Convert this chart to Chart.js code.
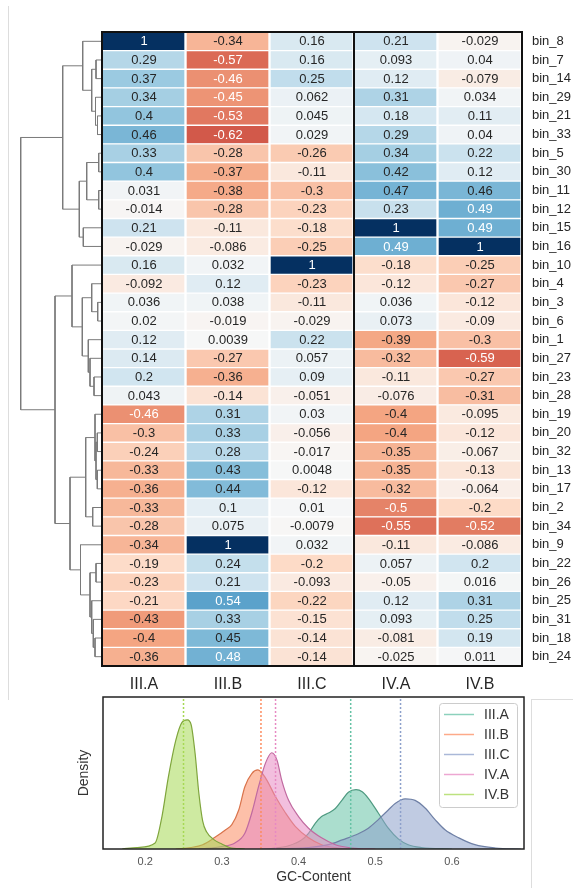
<!DOCTYPE html>
<html>
<head>
<meta charset="utf-8">
<script src="https://cdn.jsdelivr.net/npm/chart.js@4.4.0/dist/chart.umd.min.js"></script>
<style>
  body { margin: 0; background: #fff; width: 573px; height: 888px; position: relative; overflow: hidden; }
  canvas { position: absolute; }
  .frame { position: absolute; border: 0 solid #dddddd; }
</style>
</head>
<body>
<div class="frame" style="left:8px;top:6px;width:0;height:694px;border-left-width:1px"></div>
<div class="frame" style="left:531px;top:699px;width:42px;height:189px;border-left-width:1px;border-top-width:1px"></div>
<canvas id="dendroChart" style="left:10px;top:32px" width="91" height="634"></canvas>
<canvas id="heatChart" style="left:100px;top:30px" width="473" height="672"></canvas>
<canvas id="gcChart" style="left:70px;top:690px" width="503" height="198"></canvas>
<script>
// ---- heatmap data (rows in clustered order, top to bottom) ----
const rowLabels = ['bin_8','bin_7','bin_14','bin_29','bin_21','bin_33','bin_5','bin_30','bin_11','bin_12',
  'bin_15','bin_16','bin_10','bin_4','bin_3','bin_6','bin_1','bin_27','bin_23','bin_28',
  'bin_19','bin_20','bin_32','bin_13','bin_17','bin_2','bin_34','bin_9','bin_22','bin_26',
  'bin_25','bin_31','bin_18','bin_24'];
const colLabels = ['III.A', 'III.B', 'III.C', 'IV.A', 'IV.B'];

const colIIIA = [1,0.29,0.37,0.34,0.4,0.46,0.33,0.4,0.031,-0.014,0.21,-0.029,0.16,-0.092,0.036,0.02,0.12,0.14,0.2,0.043,
  -0.46,-0.3,-0.24,-0.33,-0.36,-0.33,-0.28,-0.34,-0.19,-0.23,-0.21,-0.43,-0.4,-0.36];
const colIIIB = [-0.34,-0.57,-0.46,-0.45,-0.53,-0.62,-0.28,-0.37,-0.38,-0.28,-0.11,-0.086,0.032,0.12,0.038,-0.019,0.0039,-0.27,-0.36,-0.14,
  0.31,0.33,0.28,0.43,0.44,0.1,0.075,1,0.24,0.21,0.54,0.33,0.45,0.48];
const colIIIC = [0.16,0.16,0.25,0.062,0.045,0.029,-0.26,-0.11,-0.3,-0.23,-0.18,-0.25,1,-0.23,-0.11,-0.029,0.22,0.057,0.09,-0.051,
  0.03,-0.056,-0.017,0.0048,-0.12,0.01,-0.0079,0.032,-0.2,-0.093,-0.22,-0.15,-0.14,-0.14];
const colIVA = [0.21,0.093,0.12,0.31,0.18,0.29,0.34,0.42,0.47,0.23,1,0.49,-0.18,-0.12,0.036,0.073,-0.39,-0.32,-0.11,-0.076,
  -0.4,-0.4,-0.35,-0.35,-0.32,-0.5,-0.55,-0.11,0.057,-0.05,0.12,0.093,-0.081,-0.025];
const colIVB = [-0.029,0.04,-0.079,0.034,0.11,0.04,0.22,0.12,0.46,0.49,0.49,1,-0.25,-0.27,-0.12,-0.09,-0.3,-0.59,-0.27,-0.31,
  -0.095,-0.12,-0.067,-0.13,-0.064,-0.2,-0.52,-0.086,0.2,0.016,0.31,0.25,0.19,0.011];
const heatColumns = [colIIIA, colIIIB, colIIIC, colIVA, colIVB];

// row linkage: [childA, childB, height]; ids < 34 are rows, 34+k is link k
const dendroLinks = [
  [1,2,5], [4,5,3.5], [3,35,5.5], [34,36,9.3], [0,37,18.3],
  [6,7,2.3], [8,9,2.3], [39,40,14.3], [10,11,17.7], [41,42,21.7],
  [38,43,38.3],
  [14,15,3.3], [13,45,9.3], [18,19,7], [17,47,11], [16,48,12.7], [46,49,18.7], [12,50,29],
  [21,22,3.7], [23,24,3.7], [52,53,5], [20,54,6], [25,26,8.3], [55,56,15.3],
  [28,29,5], [32,33,6], [31,59,7.7], [30,60,9.3], [58,61,11], [27,62,20.5],
  [57,63,31], [51,64,46], [44,65,80.3]
];

// ---- GC-content densities ----
const gcSeries = ['III.A', 'III.B', 'III.C', 'IV.A', 'IV.B'];
const gcMeans = [0.468, 0.351, 0.533, 0.37, 0.25];
const gcTicks = [0.2, 0.3, 0.4, 0.5, 0.6];

const kdeX_IIIA = [0.36,0.387,0.404,0.413,0.422,0.43,0.439,0.448,0.457,0.465,0.475,0.483,0.491,0.504,0.517,0.53,0.543,0.56,0.6];
const kdeY_IIIA = [0,0.65,1.8,3.1,5.1,6.4,7.1,8.0,9.7,11.2,11.7,11.3,10.0,7.1,4.1,2.0,0.85,0.3,0];
const kdeX_IIIB = [0.24,0.26,0.275,0.29,0.305,0.313,0.322,0.33,0.339,0.347,0.357,0.37,0.383,0.396,0.413,0.43,0.452,0.48];
const kdeY_IIIB = [0,0.3,0.85,2.2,3.8,4.8,7.7,12.3,14.9,15.6,14.0,10.3,7.1,4.4,2.2,0.85,0.2,0];
const kdeX_IIIC = [0.35,0.413,0.439,0.457,0.478,0.491,0.504,0.517,0.526,0.539,0.552,0.565,0.578,0.591,0.609,0.63,0.657,0.69];
const kdeY_IIIC = [0,0.3,0.85,1.8,3.0,4.1,5.8,7.7,9.0,9.9,9.6,8.1,5.8,3.8,2.2,0.85,0.2,0];
const kdeX_IVA = [0.27,0.3,0.317,0.33,0.339,0.348,0.357,0.365,0.372,0.378,0.387,0.4,0.413,0.43,0.448,0.47,0.5];
const kdeY_IVA = [0,0.5,1.2,3.1,7.1,12.4,17,19,17.5,13.6,9.6,6.4,4.1,2.2,0.85,0.2,0];
const kdeX_IVB = [0.17,0.19,0.213,0.222,0.23,0.24,0.248,0.255,0.26,0.265,0.27,0.275,0.28,0.29,0.3,0.31,0.33];
const kdeY_IVB = [0,0.3,1.2,6.5,14,21.5,25,25.5,24.5,19,11,5.5,3.4,1.8,1.0,0.3,0];
const kdeX = [kdeX_IIIA, kdeX_IIIB, kdeX_IIIC, kdeX_IVA, kdeX_IVB];
const kdeY = [kdeY_IIIA, kdeY_IIIB, kdeY_IIIC, kdeY_IVA, kdeY_IVB];

const FONT = '"Liberation Sans", Arial, sans-serif';
const RdBu = ['#67001f','#b2182b','#d6604d','#f4a582','#fddbc7','#f7f7f7','#d1e5f0','#92c5de','#4393c3','#2166ac','#053061'];
const set2 = ['102,194,165', '252,141,98', '141,160,203', '231,138,195', '166,216,84'];
const edgeColors = ['#4f9a81', '#d9734b', '#6f80a6', '#c06aa0', '#7fa53c'];

function hexToRgb(h) {
  return [1, 3, 5].map(i => parseInt(h.slice(i, i + 2), 16));
}

// RdBu colormap, vmin -1 vmax 1
function cellRgb(v) {
  const t = (v + 1) / 2 * (RdBu.length - 1);
  const i = Math.min(Math.floor(t), RdBu.length - 2);
  const f = t - i;
  const a = hexToRgb(RdBu[i]), b = hexToRgb(RdBu[i + 1]);
  return a.map((c, k) => Math.round(c + (b[k] - c) * f));
}

function cellColor(v) {
  return 'rgb(' + cellRgb(v).join(',') + ')';
}

// same rule as seaborn: dark text on light cells
function textColor(v) {
  const lin = cellRgb(v).map(c => {
    c = c / 255;
    return c <= 0.03928 ? c / 12.92 : Math.pow((c + 0.055) / 1.055, 2.4);
  });
  const lum = 0.2126 * lin[0] + 0.7152 * lin[1] + 0.0722 * lin[2];
  return lum > 0.408 ? '#262626' : '#ffffff';
}

function fmt(v) {
  return String(parseFloat(v.toPrecision(2)));
}

// ---- dendrogram ----
function dendroPoints() {
  const pos = {};
  rowLabels.forEach((_, i) => { pos[i] = { y: i, h: 0 }; });
  const pts = [];
  dendroLinks.forEach(([a, b, h], k) => {
    const A = pos[a], B = pos[b];
    pts.push({ x: A.h, y: A.y }, { x: h, y: A.y }, { x: h, y: B.y }, { x: B.h, y: B.y }, { x: null, y: null });
    pos[rowLabels.length + k] = { y: (A.y + B.y) / 2, h: h };
  });
  return pts;
}

new Chart(document.getElementById('dendroChart'), {
  type: 'scatter',
  data: {
    datasets: [{
      data: dendroPoints(),
      showLine: true,
      spanGaps: false,
      borderColor: '#7a7a7a',
      borderWidth: 1,
      pointRadius: 0
    }]
  },
  options: {
    responsive: false,
    animation: false,
    events: [],
    layout: { padding: 0 },
    plugins: { legend: { display: false }, tooltip: { enabled: false } },
    scales: {
      x: { type: 'linear', display: false, reverse: true, min: 0, max: 91 },
      y: { type: 'linear', display: false, reverse: true, min: -0.5, max: rowLabels.length - 0.5 }
    }
  }
});

// ---- heatmap ----
const heatOverlay = {
  id: 'heatOverlay',
  afterDatasetsDraw(chart) {
    const ctx = chart.ctx;
    ctx.save();
    ctx.font = '13px ' + FONT;
    ctx.textAlign = 'center';
    ctx.textBaseline = 'middle';
    chart.data.datasets.forEach((ds, di) => {
      chart.getDatasetMeta(di).data.forEach((bar, ri) => {
        const v = heatColumns[di][ri];
        const c = bar.getCenterPoint();
        ctx.fillStyle = textColor(v);
        ctx.fillText(fmt(v), c.x, c.y + 0.5);
      });
    });
    // boxes around the III and IV groups
    const xs = chart.scales.x;
    const top = chart.chartArea.top, bottom = chart.chartArea.bottom;
    ctx.strokeStyle = '#111111';
    ctx.lineWidth = 2;
    [[0, 3], [3, 5]].forEach(([a, b]) => {
      const x0 = xs.getPixelForValue(a), x1 = xs.getPixelForValue(b);
      ctx.strokeRect(x0, top, x1 - x0, bottom - top);
    });
    ctx.restore();
  }
};

new Chart(document.getElementById('heatChart'), {
  type: 'bar',
  data: {
    labels: rowLabels,
    datasets: heatColumns.map((col, i) => ({
      label: colLabels[i],
      data: col.map(() => 1),
      backgroundColor: col.map(cellColor),
      borderColor: '#ffffff',
      borderWidth: { top: 1, bottom: 1, left: 1, right: 2 },
      borderSkipped: false,
      barPercentage: 1,
      categoryPercentage: 1
    }))
  },
  options: {
    indexAxis: 'y',
    responsive: false,
    animation: false,
    events: [],
    layout: { padding: { left: 2, top: 2, right: 0, bottom: 0 } },
    plugins: { legend: { display: false }, tooltip: { enabled: false } },
    scales: {
      x: { type: 'linear', stacked: true, display: false, min: 0, max: colLabels.length },
      colAxis: {
        type: 'category', axis: 'x', position: 'bottom', labels: colLabels, offset: true,
        grid: { display: false, drawTicks: false }, border: { display: false },
        ticks: { color: '#262626', font: { family: FONT, size: 16 }, padding: 9, maxRotation: 0 },
        afterFit: a => { a.height = 36; a.paddingLeft = 0; a.paddingRight = 0; }
      },
      y: {
        type: 'category', stacked: true, position: 'right',
        grid: { display: false, drawTicks: false }, border: { display: false },
        ticks: { color: '#262626', font: { family: FONT, size: 13 }, padding: 10, autoSkip: false },
        afterFit: a => { a.width = 51; a.paddingTop = 0; a.paddingBottom = 0; }
      }
    }
  },
  plugins: [heatOverlay]
});

// ---- GC-content density plot ----
const gcFrame = {
  id: 'gcFrame',
  afterDraw(chart) {
    const { ctx, chartArea: a } = chart;
    ctx.save();
    ctx.strokeStyle = '#222222';
    ctx.lineWidth = 1.5;
    ctx.strokeRect(a.left, a.top, a.right - a.left, a.bottom - a.top);
    // legend in upper right corner
    const bx = a.right - 85, by = a.top + 6, bw = 78, bh = 104;
    ctx.fillStyle = 'rgba(255,255,255,0.85)';
    ctx.strokeStyle = '#cccccc';
    ctx.lineWidth = 1;
    ctx.beginPath();
    ctx.roundRect(bx + 0.5, by + 0.5, bw, bh, 3);
    ctx.fill();
    ctx.stroke();
    ctx.font = '14px ' + FONT;
    ctx.textAlign = 'left';
    ctx.textBaseline = 'middle';
    gcSeries.forEach((name, i) => {
      const y = by + 11.5 + i * 20;
      ctx.strokeStyle = 'rgba(' + set2[i] + ',0.75)';
      ctx.lineWidth = 1.5;
      ctx.beginPath();
      ctx.moveTo(bx + 5, y);
      ctx.lineTo(bx + 35, y);
      ctx.stroke();
      ctx.fillStyle = '#333333';
      ctx.fillText(name, bx + 45, y + 0.5);
    });
    ctx.restore();
  }
};

const gcDatasets = gcSeries.map((name, i) => ({
  label: name,
  data: kdeX[i].map((x, j) => ({ x: x, y: kdeY[i][j] })),
  fill: 'origin',
  backgroundColor: 'rgba(' + set2[i] + ',0.55)',
  borderColor: edgeColors[i],
  borderWidth: 1.2,
  pointRadius: 0,
  cubicInterpolationMode: 'monotone',
  order: gcSeries.length - i
}));
const meanDatasets = gcMeans.map((m, i) => ({
  label: gcSeries[i] + ' mean',
  data: [{ x: m, y: 0 }, { x: m, y: 29.6 }],
  fill: false,
  borderColor: 'rgb(' + set2[i] + ')',
  borderWidth: 1.5,
  borderDash: [2, 2],
  pointRadius: 0,
  order: -1
}));

new Chart(document.getElementById('gcChart'), {
  type: 'line',
  data: { datasets: gcDatasets.concat(meanDatasets) },
  options: {
    responsive: false,
    animation: false,
    events: [],
    layout: { padding: { left: 0, top: 7, right: 49, bottom: 0 } },
    plugins: { legend: { display: false }, tooltip: { enabled: false } },
    scales: {
      x: {
        type: 'linear', min: 0.145, max: 0.694,
        grid: { display: false, drawTicks: false }, border: { display: false },
        afterBuildTicks: s => { s.ticks = gcTicks.map(v => ({ value: v })); },
        ticks: { color: '#555555', font: { family: FONT, size: 11 }, padding: 6, callback: v => v.toFixed(1) },
        title: { display: true, text: 'GC-Content', color: '#333333', font: { family: FONT, size: 14 }, padding: { top: 0, bottom: 2 } },
        afterFit: a => { a.height = 39; a.paddingLeft = 0; a.paddingRight = 0; }
      },
      y: {
        type: 'linear', min: 0, max: 30,
        grid: { display: false, drawTicks: false }, border: { display: false },
        ticks: { display: false },
        title: { display: true, text: 'Density', color: '#333333', font: { family: FONT, size: 14 }, padding: { top: 6, bottom: 0 } },
        afterFit: a => { a.width = 33; }
      }
    }
  },
  plugins: [gcFrame]
});
</script>
</body>
</html>
